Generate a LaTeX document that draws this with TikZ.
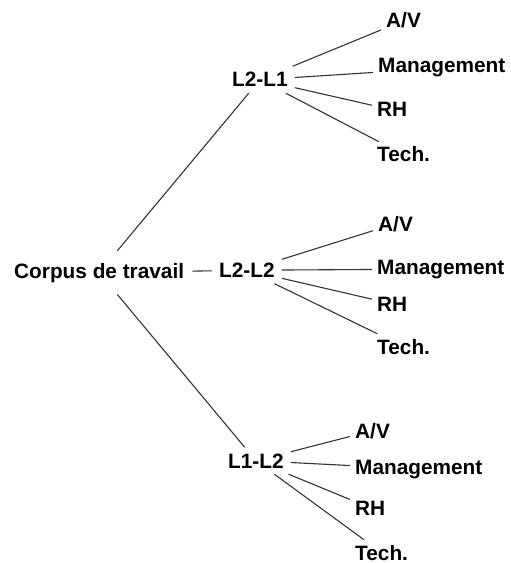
\documentclass[tikz,border=0pt]{standalone}
\usepackage{fontspec}
\setmainfont{Liberation Sans}
\begin{document}
\begin{tikzpicture}[x=1bp,y=-1bp,
  every node/.style={font=\fontsize{20.8bp}{24bp}\selectfont\bfseries, text=black},
  root/.style={anchor=base west, inner xsep=8bp, inner ysep=12bp},
  mid/.style={anchor=base west, inner xsep=7bp, inner ysep=6bp},
  leaf/.style={anchor=base west, inner sep=5bp},
  edge/.style={draw=black!80, line width=1.1bp}]
\useasboundingbox (0,0) rectangle (511,563);
\node[root] (corpus) at (6,278) {Corpus de travail};
\node[mid] (a) at (225,87) {L2-L1};
\node[mid] (b) at (212,277.5) {L2-L2};
\node[mid] (c) at (221,468) {L1-L2};
% top leaves
\node[leaf] (a1) at (381,28) {A/V};
\node[leaf] (a2) at (373,73) {Management};
\node[leaf] (a3) at (372,117) {RH};
\node[leaf] (a4) at (372,162) {Tech.};
% middle leaves
\node[leaf] (b1) at (373,231) {A/V};
\node[leaf] (b2) at (372,274) {Management};
\node[leaf] (b3) at (372,311) {RH};
\node[leaf] (b4) at (372,354) {Tech.};
% bottom leaves
\node[leaf] (c1) at (350,438) {A/V};
\node[leaf] (c2) at (350,474) {Management};
\node[leaf] (c3) at (350,515) {RH};
\node[leaf] (c4) at (350,560) {Tech.};
\draw[edge] (corpus) -- (a);
\draw[edge] (corpus) -- (b);
\draw[edge] (corpus) -- (c);
\foreach \p in {a,b,c}{
  \foreach \i in {1,2,3,4}{
    \draw[edge] (\p) -- (\p\i);
  }
}
\end{tikzpicture}
\end{document}
